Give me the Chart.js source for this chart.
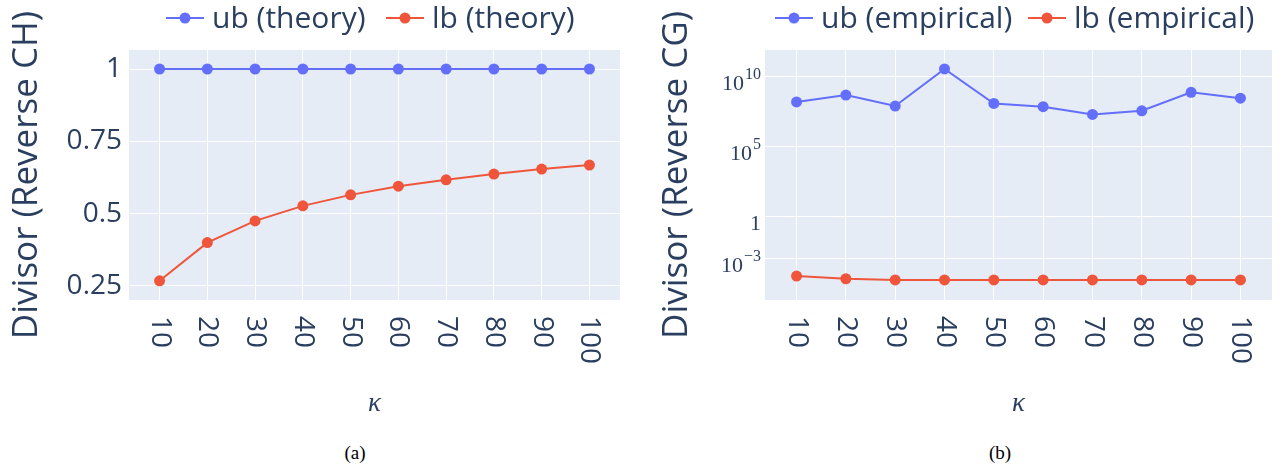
<!DOCTYPE html>
<html><head><meta charset="utf-8">
<script src="https://cdn.jsdelivr.net/npm/chart.js@4.4.1/dist/chart.umd.min.js"></script>
<style>
html,body{margin:0;padding:0;background:#fff;width:1281px;height:469px;overflow:hidden;}
.panel{position:absolute;top:0;height:440px;}
#pa{left:0;width:640px}
#pb{left:640px;width:641px}
.cap{position:absolute;top:442px;line-height:22px;font-family:"Liberation Serif","Times New Roman",serif;font-size:19px;color:#000;transform:translateX(-50%);}
</style></head><body>
<div class="panel" id="pa"><canvas id="ca"></canvas></div>
<div class="panel" id="pb"><canvas id="cb"></canvas></div>
<div class="cap" style="left:355px">(a)</div>
<div class="cap" style="left:1000px">(b)</div>
<script>
// ---- data ----
const kappa = [10, 20, 30, 40, 50, 60, 70, 80, 90, 100];
const xTickValues = [10, 20, 30, 40, 50, 60, 70, 80, 90, 100];
const ubTheory = [1, 1, 1, 1, 1, 1, 1, 1, 1, 1];
const lbTheory = [0.268, 0.400, 0.475, 0.527, 0.565, 0.595, 0.617, 0.637, 0.654, 0.668];
const ubEmpirical = [1.4e8, 4.4e8, 7.2e7, 3.2e10, 1.1e8, 6.5e7, 1.8e7, 3.3e7, 6.9e8, 2.6e8];
const lbEmpirical = [5.1e-5, 3.3e-5, 2.7e-5, 2.7e-5, 2.7e-5, 2.7e-5, 2.7e-5, 2.7e-5, 2.7e-5, 2.7e-5];
const yTicksA = [0.25, 0.5, 0.75, 1];
const yTicksB = [1e-3, 1, 1e5, 1e10];
const yTickBase = ['10', '1', '10', '10'];
const yTickExp = ['\u22123', '', '5', '10'];
const seriesNamesA = ['ub (theory)', 'lb (theory)'];
const seriesNamesB = ['ub (empirical)', 'lb (empirical)'];

const BLUE = '#636efa', RED = '#ef553b', INK = '#2a3f5f', BG = '#e5ecf6';

function pts(ys){ return kappa.map((k,i)=>({x:k, y:ys[i]})); }
function ds(label, ys, color){
  return {label, data: pts(ys), borderColor: color, backgroundColor: color,
    pointBackgroundColor: color, pointBorderColor: color, borderWidth: 2,
    pointRadius: 5.5, pointHoverRadius: 5.5, pointBorderWidth: 0, tension: 0, clip: false};
}

const bgPlugin = {
  id: 'plotbg',
  beforeDraw(chart){
    const {ctx, chartArea:a} = chart;
    ctx.save(); ctx.fillStyle = BG; ctx.fillRect(a.left, a.top, a.right-a.left, a.bottom-a.top); ctx.restore();
  }
};
const xLabelPlugin = {
  id: 'xlabels',
  afterDraw(chart, args, opts){
    const ctx = chart.ctx, xs = chart.scales.x;
    ctx.save();
    ctx.font = '28px "Open Sans"'; ctx.fillStyle = INK;
    ctx.textAlign = 'left'; ctx.textBaseline = 'middle';
    xTickValues.forEach(v=>{
      const px = xs.getPixelForValue(v);
      ctx.save(); ctx.translate(px, opts.top); ctx.rotate(Math.PI/2);
      ctx.fillText(String(v), 0, 0); ctx.restore();
    });
    ctx.restore();
  }
};
const legendPlugin = {
  id: 'plegend',
  afterDraw(chart, args, opts){
    const ctx = chart.ctx;
    ctx.save();
    chart.data.datasets.forEach((d,i)=>{
      const x0 = opts.xs[i], y = opts.y;
      ctx.strokeStyle = d.borderColor; ctx.lineWidth = 2;
      ctx.beginPath(); ctx.moveTo(x0, y); ctx.lineTo(x0+38, y); ctx.stroke();
      ctx.fillStyle = d.borderColor; ctx.beginPath(); ctx.arc(x0+19, y, 5.5, 0, Math.PI*2); ctx.fill();
      ctx.font = '30px "Open Sans"'; ctx.fillStyle = INK; ctx.textAlign='left'; ctx.textBaseline='middle';
      ctx.fillText(d.label, x0+46, y+1);
    });
    ctx.restore();
  }
};
const logTickPlugin = {
  id: 'logticks',
  afterDraw(chart, args, opts){
    const ctx = chart.ctx, ys = chart.scales.y;
    ctx.save(); ctx.fillStyle = INK; ctx.textAlign = 'right'; ctx.textBaseline = 'alphabetic';
    yTicksB.forEach((v,i)=>{
      const py = ys.getPixelForValue(v);
      const right = opts.right;
      let w = 0;
      if (yTickExp[i]) {
        ctx.font = '16px "Liberation Serif"';
        w = ctx.measureText(yTickExp[i]).width;
        ctx.fillText(yTickExp[i], right, py + 3);
      }
      ctx.font = '22px "Liberation Serif"';
      ctx.fillText(yTickBase[i], right - w - (w ? 1 : 0), py + 14);
    });
    ctx.restore();
  }
};

function xScale(){
  return {type:'linear', min:3.6, max:106.4,
    afterBuildTicks: s=>{ s.ticks = xTickValues.map(v=>({value:v})); },
    ticks:{display:false}, grid:{color:'#ffffff', lineWidth:1, drawTicks:false}, border:{display:false},
    afterFit: s=>{ s.height = 120; },
    title:{display:true, text:'κ', color:INK, font:{family:'Liberation Serif', style:'italic', size:27}, padding:{top:0, bottom:0}}};
}

new Chart(document.getElementById('ca'), {
  type:'line',
  data:{datasets:[ds(seriesNamesA[0], ubTheory, BLUE), ds(seriesNamesA[1], lbTheory, RED)]},
  options:{
    responsive:true, maintainAspectRatio:false, animation:false,
    layout:{padding:{left:0, top:50, right:20, bottom:20}},
    plugins:{legend:{display:false}, tooltip:{enabled:false},
      xlabels:{top:316}, plegend:{xs:[166, 386], y:18}},
    scales:{
      x: xScale(),
      y:{type:'linear', min:0.2016, max:1.0657,
        afterBuildTicks: s=>{ s.ticks = yTicksA.map(v=>({value:v})); },
        ticks:{callback:v=>String(v), color:INK, font:{family:'Open Sans', size:28}, padding:7},
        grid:{color:'#ffffff', lineWidth:1, drawTicks:false}, border:{display:false},
        afterFit: s=>{ s.width = 129; },
        title:{display:true, text:'Divisor (Reverse CH)', color:INK, font:{family:'Open Sans', size:35}, padding:{top:6, bottom:0}}}
    }
  },
  plugins:[bgPlugin, xLabelPlugin, legendPlugin]
});

new Chart(document.getElementById('cb'), {
  type:'line',
  data:{datasets:[ds(seriesNamesB[0], ubEmpirical, BLUE), ds(seriesNamesB[1], lbEmpirical, RED)]},
  options:{
    responsive:true, maintainAspectRatio:false, animation:false,
    layout:{padding:{left:0, top:50, right:9, bottom:20}},
    plugins:{legend:{display:false}, tooltip:{enabled:false},
      xlabels:{top:316}, plegend:{xs:[135, 388], y:18}, logticks:{right:121}},
    scales:{
      x: xScale(),
      y:{type:'logarithmic', min:1e-6, max:Math.pow(10, 11.86),
        afterBuildTicks: s=>{ s.ticks = yTicksB.map(v=>({value:v})); },
        ticks:{display:false},
        grid:{color:'#ffffff', lineWidth:1, drawTicks:false}, border:{display:false},
        afterFit: s=>{ s.width = 125; },
        title:{display:true, text:'Divisor (Reverse CG)', color:INK, font:{family:'Open Sans', size:35}, padding:{top:16, bottom:0}}}
    }
  },
  plugins:[bgPlugin, xLabelPlugin, legendPlugin, logTickPlugin]
});
</script>
</body></html>
